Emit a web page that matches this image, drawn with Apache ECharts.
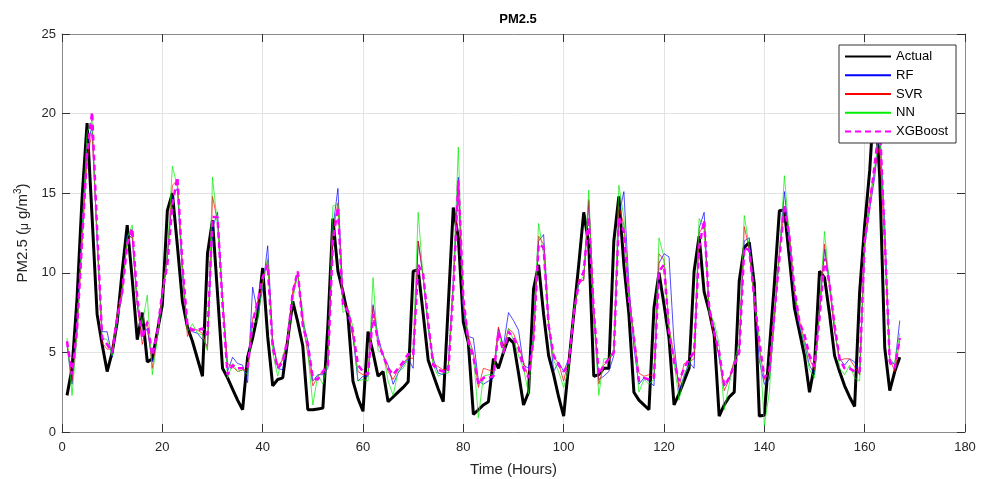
<!DOCTYPE html>
<html><head><meta charset="utf-8">
<script src="https://cdn.jsdelivr.net/npm/echarts@6/dist/echarts.min.js"></script>
<style>html,body{margin:0;padding:0;background:#fff}#c{width:982px;height:479px}</style>
</head><body><div id="c"></div>
<script>
var xTicks = [0, 20, 40, 60, 80, 100, 120, 140, 160, 180];
var yTicks = [0, 5, 10, 15, 20, 25];
var actual = [2.3,4.0,8.4,14.7,19.4,13.5,7.4,5.5,3.8,5.0,6.9,10.1,13.0,9.6,5.8,7.5,4.4,4.6,6.3,8.0,
13.9,15.0,11.7,8.2,6.6,5.7,4.6,3.5,11.2,13.3,8.7,4.0,3.4,2.7,2.0,1.4,4.7,5.9,7.4,10.3,
6.0,2.9,3.3,3.4,5.8,8.2,6.9,5.4,1.4,1.4,1.45,1.5,6.7,13.4,10.1,8.8,7.3,3.2,2.1,1.3,
6.3,5.0,3.5,3.8,1.9,2.2,2.5,2.8,3.15,10.1,10.2,7.4,4.5,3.6,2.7,1.9,8.0,14.1,12.2,6.9,
5.6,1.1,1.4,1.7,1.9,4.6,4.0,5.0,5.9,5.6,3.7,1.7,2.5,9.0,10.5,7.4,4.8,3.6,2.2,1.0,
4.2,7.4,10.5,13.8,11.8,3.5,3.6,4.0,4.0,12.0,14.8,10.5,7.4,2.5,2.0,1.7,1.4,7.8,10.0,8.0,
5.9,1.7,2.4,3.2,4.0,10.1,12.3,8.8,7.6,6.1,1.0,1.7,2.2,2.5,9.5,11.6,11.9,9.3,1.0,1.05,
5.2,9.3,13.9,13.95,10.9,7.8,6.3,4.8,2.5,4.2,10.1,9.7,7.4,4.8,3.8,2.9,2.2,1.6,8.8,13.0,
16.4,21.5,16.0,5.3,2.6,3.8,4.7];
var rf = [5.5,3.0,6.8,12.5,18.0,19.2,12.0,6.3,6.3,4.7,7.0,8.6,12.4,12.2,8.0,6.0,6.5,4.4,6.0,8.6,
11.0,14.8,15.3,10.0,6.5,6.3,6.2,5.8,5.4,12.8,13.8,8.5,3.8,4.7,4.3,4.2,3.1,9.1,7.5,9.0,
11.7,5.8,4.0,3.9,5.8,8.6,10.0,7.0,5.7,3.2,3.6,3.6,4.0,12.8,15.3,8.5,7.4,6.0,3.2,3.5,
3.5,8.0,6.0,4.8,4.2,3.0,3.7,4.2,4.6,4.0,12.0,9.7,6.5,4.6,3.7,3.6,4.2,9.5,16.0,7.6,
6.0,5.9,3.2,3.0,3.2,3.4,6.5,5.4,7.5,7.0,6.4,4.2,4.0,6.1,12.0,12.4,7.0,3.8,4.4,3.8,
4.6,7.3,9.3,9.6,14.5,7.5,3.3,3.5,3.8,4.8,13.6,15.1,9.3,5.3,3.0,3.4,3.2,2.9,10.6,11.2,
11.0,5.6,2.6,3.5,4.4,4.0,12.8,13.8,7.6,6.5,4.6,2.9,3.3,4.4,5.2,12.0,12.2,8.3,4.5,3.0,
3.3,7.0,11.2,15.1,12.0,8.5,6.6,5.5,4.2,3.6,7.5,11.5,9.5,6.3,4.6,4.2,4.6,4.4,3.6,11.6,
14.0,16.0,19.0,13.0,4.6,4.2,7.0];
var svr = [5.6,3.2,6.2,11.8,17.2,18.8,12.4,5.6,5.2,5.2,7.4,9.0,12.0,12.4,8.0,5.5,7.0,4.0,6.1,8.7,
11.0,15.5,15.8,10.5,6.0,6.5,6.4,6.2,5.2,14.8,13.2,8.3,4.3,4.1,3.8,3.9,3.9,7.1,8.0,9.4,
10.8,5.5,4.2,4.5,5.8,8.9,10.0,6.8,4.9,2.9,3.5,3.8,4.4,12.5,14.4,8.3,7.7,6.0,3.8,3.6,
3.6,7.9,5.5,4.9,3.8,3.3,3.9,4.3,4.7,4.6,12.0,9.8,6.8,4.3,4.1,3.9,4.0,9.2,15.6,8.2,
6.0,5.0,2.8,4.0,3.9,3.8,6.6,5.2,6.5,6.2,5.4,4.4,3.4,5.6,12.3,11.8,6.8,4.7,4.3,3.2,
4.6,7.2,9.6,9.5,14.6,7.8,3.0,4.2,4.5,5.0,14.2,13.0,8.6,6.0,3.7,3.5,3.6,3.5,11.2,10.8,
6.6,4.8,2.8,4.3,4.4,4.6,12.5,13.0,7.6,6.0,4.8,2.6,3.3,4.5,5.0,12.9,11.5,8.2,5.3,3.3,
3.9,7.3,11.3,14.0,12.6,8.8,7.0,5.8,4.6,3.9,7.6,11.8,9.0,6.4,4.5,4.6,4.6,4.1,3.6,12.2,
14.6,16.5,18.0,11.5,4.6,3.8,5.8];
var nn = [5.9,2.3,6.0,12.5,18.8,19.6,12.0,5.9,5.8,4.8,7.0,8.8,12.2,13.0,8.2,6.8,8.6,3.6,5.8,8.5,
11.2,16.7,15.4,10.2,6.3,6.8,6.2,6.1,5.1,16.0,13.0,8.2,3.4,4.3,3.8,3.9,3.6,6.8,7.0,9.3,
10.9,5.0,3.5,4.8,5.6,8.3,10.0,7.5,5.0,1.7,3.6,3.0,4.5,14.2,14.3,7.5,7.8,6.6,3.2,3.3,
3.2,9.7,5.1,5.0,3.2,2.3,3.8,4.0,4.6,5.3,13.8,9.6,6.6,4.2,3.5,3.7,3.7,9.4,17.9,8.0,
5.5,4.9,0.9,3.5,3.6,3.6,6.2,4.9,6.5,5.8,4.8,4.0,2.4,6.5,13.1,11.2,6.5,4.5,3.8,2.8,
4.0,7.6,9.4,9.8,15.2,7.2,2.3,4.6,4.6,5.2,15.5,13.5,8.3,6.2,2.5,3.3,3.0,3.3,12.2,11.0,
6.5,4.4,2.0,3.6,4.2,5.1,13.4,12.8,7.5,6.9,5.5,1.4,3.0,4.4,5.6,13.6,11.6,8.4,5.9,0.4,
2.5,7.6,11.0,16.1,12.3,9.0,6.8,5.5,3.9,3.4,7.8,12.6,9.2,6.8,4.0,3.6,4.2,3.4,3.2,11.8,
14.2,16.6,19.0,12.5,4.2,4.4,6.2];
var xgb = [5.7,3.6,6.5,12.0,17.5,20.1,12.6,5.9,5.5,5.0,7.2,8.8,11.8,12.8,8.4,5.9,6.9,4.8,6.3,8.8,
10.5,14.3,16.0,10.5,6.7,6.4,6.4,6.5,6.1,13.5,13.5,8.0,3.6,4.2,4.0,4.0,4.0,6.9,8.2,9.7,
10.5,5.3,4.0,4.4,5.9,8.8,10.1,6.7,5.5,3.4,3.3,3.8,4.2,12.0,14.1,8.0,7.6,6.3,4.2,3.8,
3.6,7.4,5.7,4.8,4.0,3.6,4.0,4.4,4.9,4.8,10.5,9.9,6.9,4.2,3.9,3.8,3.8,9.0,15.8,8.4,
5.7,4.7,3.0,3.4,3.4,3.5,6.3,5.0,6.3,5.9,5.3,4.0,3.4,5.9,11.8,11.6,6.7,4.8,4.2,3.8,
4.2,7.4,9.3,10.1,13.5,7.6,3.6,4.2,4.6,5.0,13.5,12.6,8.4,5.9,3.2,3.4,3.3,3.4,10.1,10.5,
6.3,4.4,3.2,4.0,4.6,5.0,11.6,13.3,7.8,6.3,5.0,2.9,3.4,4.2,5.0,11.6,11.4,8.4,5.7,3.4,
3.8,7.4,10.9,14.3,12.2,9.0,6.9,6.1,4.8,4.1,7.2,10.9,9.3,6.7,4.6,4.0,4.0,3.8,3.8,12.0,
14.3,16.8,19.5,12.1,4.4,4.0,5.9];
var hours = actual.map(function (v, i) { return i + 1; });

function pairs(arr) { return arr.map(function (v, i) { return [hours[i], v]; }); }
var font = 'Liberation Sans, Arial, Helvetica, sans-serif';
var chart = echarts.init(document.getElementById('c'), null, {renderer: 'canvas'});
function mk(name, arr, color, width, type) {
  return {name: name, type: 'line', data: pairs(arr), showSymbol: false, symbol: 'none',
    xAxisIndex: 0, yAxisIndex: 0, animation: false,
    lineStyle: {color: color, width: width, type: type || 'solid'}, itemStyle: {color: color}};
}
var axisBase = {
  axisLine: {show: true, onZero: false, lineStyle: {color: '#8a8a8a', width: 1}},
  axisTick: {show: true, inside: true, length: 8, lineStyle: {color: '#333'}},
};
chart.setOption({
  backgroundColor: '#fff',
  animation: false,
  title: {text: 'PM2.5', left: 513, top: 8, textAlign: 'center',
    textStyle: {fontFamily: font, fontSize: 13, fontWeight: 'bold', color: '#000'}},
  grid: {left: 62, right: 17, top: 34, bottom: 47, containLabel: false, outerBoundsMode: 'none'},
  legend: {orient: 'vertical', left: 839, top: 45, padding: [5, 8, 5, 5],
    itemWidth: 46, itemHeight: 14, itemGap: 5.75, icon: 'inherit',
    itemStyle: {opacity: 0},
    borderColor: '#333', borderWidth: 1, backgroundColor: '#fff',
    textStyle: {fontFamily: font, fontSize: 13, color: '#000', padding: [0, 0, 0, 0]},
    data: ['Actual', 'RF', 'SVR', 'NN', 'XGBoost']},
  xAxis: [
    Object.assign({type: 'value', min: xTicks[0], max: xTicks[xTicks.length - 1], interval: 20,
      position: 'bottom', name: 'Time (Hours)', nameLocation: 'middle', nameGap: 30,
      nameTextStyle: {fontFamily: font, fontSize: 15, color: '#262626'},
      axisLabel: {fontFamily: font, fontSize: 13, color: '#262626', margin: 9},
      splitLine: {show: true, lineStyle: {color: '#e3e3e3', width: 1}}}, axisBase),
    Object.assign({type: 'value', min: xTicks[0], max: xTicks[xTicks.length - 1], interval: 20,
      position: 'top', axisLabel: {show: false}, splitLine: {show: false}}, axisBase)
  ],
  yAxis: [
    Object.assign({type: 'value', min: yTicks[0], max: yTicks[yTicks.length - 1], interval: 5,
      position: 'left', name: '{a|PM2.5 (}{mu|μ}{a| g/m}{sup|3}{a|)}', nameLocation: 'middle', nameGap: 31,
      nameTextStyle: {fontFamily: font, fontSize: 15, color: '#262626',
        rich: {a: {fontFamily: font, fontSize: 15, color: '#262626', lineHeight: 18, verticalAlign: 'bottom'},
               mu: {fontFamily: font, fontSize: 12, color: '#262626', lineHeight: 18, verticalAlign: 'bottom'},
               sup: {fontFamily: font, fontSize: 10, color: '#262626', lineHeight: 18, verticalAlign: 'bottom', padding: [0, 0, 7, 0]}}},
      axisLabel: {fontFamily: font, fontSize: 13, color: '#262626', margin: 6},
      splitLine: {show: true, lineStyle: {color: '#e3e3e3', width: 1}}}, axisBase),
    Object.assign({type: 'value', min: yTicks[0], max: yTicks[yTicks.length - 1], interval: 5,
      position: 'right', axisLabel: {show: false}, splitLine: {show: false}}, axisBase)
  ],
  series: [
    mk('Actual', actual, '#000000', 3),
    mk('RF', rf, '#0000ff', 0.7),
    mk('SVR', svr, '#ff0000', 0.7),
    mk('NN', nn, '#00ee00', 0.7),
    mk('XGBoost', xgb, '#ff00ff', 2.5, [6, 4])
  ]
});
</script></body></html>
